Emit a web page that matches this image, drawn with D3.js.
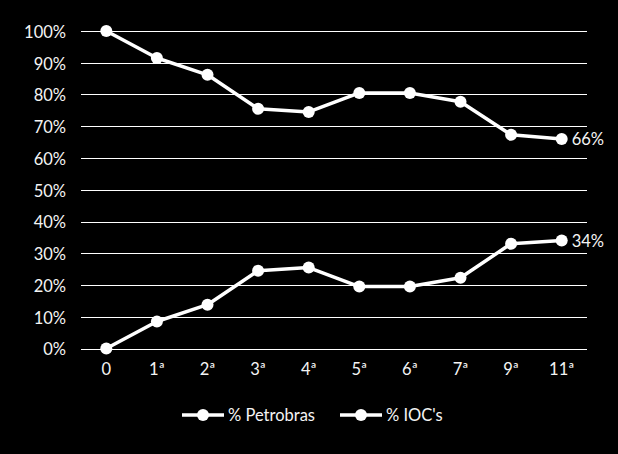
<!DOCTYPE html>
<html><head><meta charset="utf-8">
<script src="https://cdn.jsdelivr.net/npm/d3@7"></script>
<style>html,body{margin:0;padding:0;background:#000;}svg{display:block;}</style>
</head><body>
<svg id="chart" width="618" height="454"></svg>
<script>
const categories = ["0","1ª","2ª","3ª","4ª","5ª","6ª","7ª","9ª","11ª"];
const petrobras = [100, 91.5, 86.2, 75.5, 74.5, 80.5, 80.5, 77.7, 67.3, 66];
const iocs = [0, 8.5, 13.8, 24.5, 25.5, 19.5, 19.5, 22.3, 33, 34];
const yTicks = [0,10,20,30,40,50,60,70,80,90,100];
const seriesNames = ["% Petrobras", "% IOC's"];
const endLabels = ["66%", "34%"];

const font = "Lato, 'Open Sans', sans-serif";
const fs = 16.5;
const txtCol = "#f4f4f4";
const svg = d3.select("#chart");
svg.append("rect").attr("width",618).attr("height",454).attr("fill","#000");

const x = d3.scaleBand().domain(categories).range([81, 587]);
const y = d3.scaleLinear().domain([0,100]).range([348.5, 31]);

// gridlines
svg.append("g").selectAll("line").data(yTicks).join("line")
  .attr("x1",81).attr("x2",587)
  .attr("y1",d=>Math.round(y(d))+0.5).attr("y2",d=>Math.round(y(d))+0.5)
  .attr("stroke","#fff").attr("stroke-width",1.2);

// y axis labels
const yAxis = d3.axisLeft(y).tickValues(yTicks).tickFormat(d=>d+"%").tickSize(0).tickPadding(0);
const gy = svg.append("g").attr("transform","translate(66,1)").call(yAxis);
gy.select(".domain").remove();
gy.selectAll("text").attr("fill",txtCol).attr("font-family",font).attr("font-size",fs);

// x axis labels
const xAxis = d3.axisBottom(x).tickSize(0).tickPadding(0);
const gx = svg.append("g").attr("transform","translate(0,363)").call(xAxis);
gx.select(".domain").remove();
gx.selectAll("text").attr("fill",txtCol).attr("font-family",font).attr("font-size",fs);

const cx = c => x(c) + x.bandwidth()/2;
const line = d3.line().x((d,i)=>cx(categories[i])).y(d=>y(d));

[petrobras, iocs].forEach((s, k) => {
  svg.append("path").datum(s).attr("d", line)
    .attr("fill","none").attr("stroke","#fff").attr("stroke-width",3.5).attr("stroke-linejoin","round");
  svg.append("g").selectAll("circle").data(s).join("circle")
    .attr("cx",(d,i)=>cx(categories[i])).attr("cy",d=>y(d)).attr("r",6).attr("fill","#fff");
  const last = s.length-1;
  svg.append("text").attr("x", cx(categories[last]) + 10).attr("y", y(s[last]) + 6)
    .attr("fill",txtCol).attr("font-family",font).attr("font-size",fs).text(endLabels[k]);
});

// legend
const legendX = [182, 340];
seriesNames.forEach((n,k) => {
  const g = svg.append("g").attr("transform",`translate(${legendX[k]},415)`);
  g.append("line").attr("x1",0).attr("x2",42).attr("y1",0).attr("y2",0).attr("stroke","#fff").attr("stroke-width",3.5);
  g.append("circle").attr("cx",21).attr("cy",0).attr("r",6).attr("fill","#fff");
  g.append("text").attr("x",46).attr("y",6).attr("fill",txtCol).attr("font-family",font).attr("font-size",fs).text(n);
});
</script>
</body></html>
